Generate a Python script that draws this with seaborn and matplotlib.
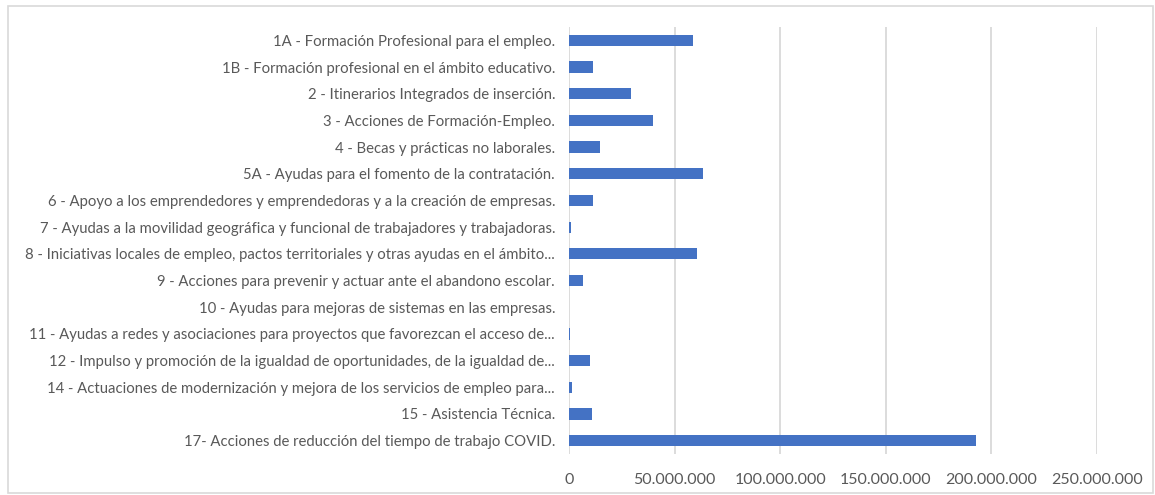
import numpy as np
import pandas as pd
import seaborn as sns
import matplotlib.pyplot as plt
from matplotlib.ticker import FuncFormatter
from matplotlib.patches import Rectangle

# Categories and values (EUR)
categories = [
    "1A - Formación Profesional para el empleo.",
    "1B - Formación profesional en el ámbito educativo.",
    "2 - Itinerarios Integrados de inserción.",
    "3 - Acciones de Formación-Empleo.",
    "4 - Becas y prácticas no laborales.",
    "5A - Ayudas para el fomento de la contratación.",
    "6 - Apoyo a los emprendedores y emprendedoras y a la creación de empresas.",
    "7 - Ayudas a la movilidad geográfica y funcional de trabajadores y trabajadoras.",
    "8 - Iniciativas locales de empleo, pactos territoriales y otras ayudas en el ámbito...",
    "9 - Acciones para prevenir y actuar ante el abandono escolar.",
    "10 - Ayudas para mejoras de sistemas en las empresas.",
    "11 - Ayudas a redes y asociaciones para proyectos que favorezcan el acceso de...",
    "12 - Impulso y promoción de la igualdad de oportunidades, de la igualdad de...",
    "14 - Actuaciones de modernización y mejora de los servicios de empleo para...",
    "15 - Asistencia Técnica.",
    "17- Acciones de reducción del tiempo de trabajo COVID.",
]
values = [
    58700000, 11500000, 29300000, 39600000, 14600000, 63300000, 11500000,
    900000, 60800000, 6600000, 0, 700000, 10000000, 1300000, 10800000,
    192800000,
]
xticks = [0, 50000000, 100000000, 150000000, 200000000, 250000000]

df = pd.DataFrame({"categoria": categories, "importe": values})

sns.set_theme(style="white")
plt.rcParams['font.family'] = ['Lato', 'DejaVu Sans']

fig = plt.figure(figsize=(11.55, 4.95), dpi=100)
ax = fig.add_axes([569 / 1155, 1 - 454 / 495, (1097 - 569) / 1155, (454 - 27) / 495])

sns.barplot(data=df, y="categoria", x="importe", color="#4472C4", saturation=1,
            width=0.42, orient="h", ax=ax, zorder=3, linewidth=0)

ax.set_xlim(0, 250000000)
ax.set_xticks(xticks)
ax.xaxis.set_major_formatter(FuncFormatter(lambda v, p: f"{int(v):,}".replace(",", ".")))
ax.grid(axis="x", color="#d9d9d9", linewidth=1.3, zorder=0)
ax.set_axisbelow(True)
for s in ax.spines.values():
    s.set_visible(False)
ax.set_xlabel("")
ax.set_ylabel("")
ax.tick_params(axis="x", length=0, labelsize=11.5, colors="#595959", pad=14)
ax.tick_params(axis="y", length=0, labelsize=10.7, colors="#595959", pad=10)

# chart border
fig.patches.append(Rectangle((8 / 1155, 2 / 495), 1145 / 1155, 487 / 495,
                             transform=fig.transFigure, fill=False,
                             edgecolor="#d9d9d9", linewidth=1.2))

fig.savefig("out.png", dpi=100)
